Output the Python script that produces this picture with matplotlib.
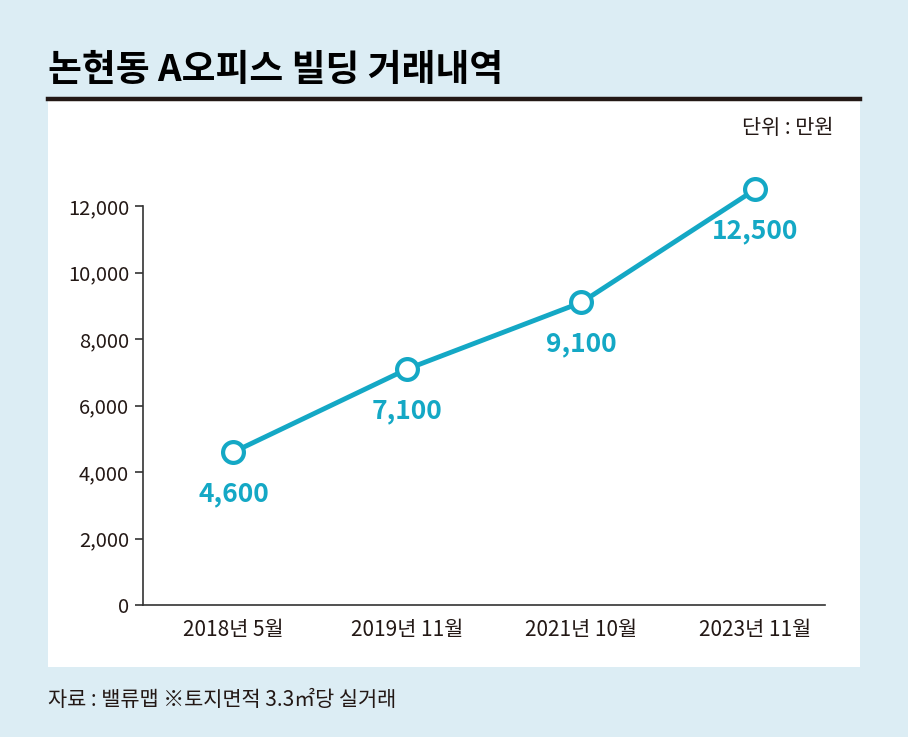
import matplotlib.pyplot as plt
from matplotlib.patches import Rectangle
from matplotlib.lines import Line2D

plt.rcParams['font.family'] = ['Noto Sans CJK KR', 'DejaVu Sans']

# data
periods = ["2018년 5월", "2019년 11월", "2021년 10월", "2023년 11월"]
prices = [4600, 7100, 9100, 12500]
price_labels = ["4,600", "7,100", "9,100", "12,500"]
y_ticks = [0, 2000, 4000, 6000, 8000, 10000, 12000]
y_tick_labels = ["0", "2,000", "4,000", "6,000", "8,000", "10,000", "12,000"]

W, H = 908, 737
bg = "#dcedf4"
cyan = "#14a8c5"
dark = "#231815"

fig = plt.figure(figsize=(W / 100, H / 100), dpi=100, facecolor=bg)

# white panel + rule under the title
fig.add_artist(Rectangle((48 / W, 1 - 667 / H), 812 / W, 567 / H,
                         transform=fig.transFigure, facecolor="white",
                         edgecolor="none", zorder=0))
fig.add_artist(Line2D([48 / W, 860 / W], [1 - 99 / H, 1 - 99 / H],
                      transform=fig.transFigure, color=dark, lw=3.2))

fig.text(48 / W, 1 - 70 / H, "논현동 A오피스 빌딩 거래내역", fontsize=26.5,
         fontweight="black", color="black", va="center", ha="left")
fig.text(833 / W, 1 - 128 / H, "단위 : 만원", fontsize=15, color=dark,
         va="center", ha="right")
fig.text(48 / W, 1 - 700 / H, "자료 : 밸류맵 ※토지면적 3.3㎡당 실거래", fontsize=15,
         color=dark, va="center", ha="left")

ax = fig.add_axes([143 / W, 1 - 605 / H, (825 - 143) / W, (605 - 206) / H])
ax.set_facecolor("none")

x = list(range(len(periods)))
ax.plot(x, prices, color=cyan, lw=3.5, marker="o", markersize=15,
        markerfacecolor="white", markeredgecolor=cyan, markeredgewidth=3,
        clip_on=False, zorder=3)
for xi, yi, lab in zip(x, prices, price_labels):
    ax.annotate(lab, (xi, yi), xytext=(0, -30), textcoords="offset points",
                ha="center", va="center", fontsize=19, fontweight="bold",
                color=cyan, annotation_clip=False)

ax.set_xlim(-0.52, 3.4)
ax.set_ylim(0, 12000)
ax.set_yticks(y_ticks)
ax.set_yticklabels(y_tick_labels)
ax.set_xticks(x)
ax.set_xticklabels(periods)

for s in ["top", "right"]:
    ax.spines[s].set_visible(False)
for s in ["left", "bottom"]:
    ax.spines[s].set_color("#333333")
    ax.spines[s].set_linewidth(1.2)
ax.tick_params(axis="y", length=6, width=1.2, color="#333333", labelsize=14.5,
               labelcolor=dark, pad=4)
ax.tick_params(axis="x", length=0, labelsize=15, labelcolor=dark, pad=10)

fig.savefig("out.png", dpi=100, facecolor=bg)
